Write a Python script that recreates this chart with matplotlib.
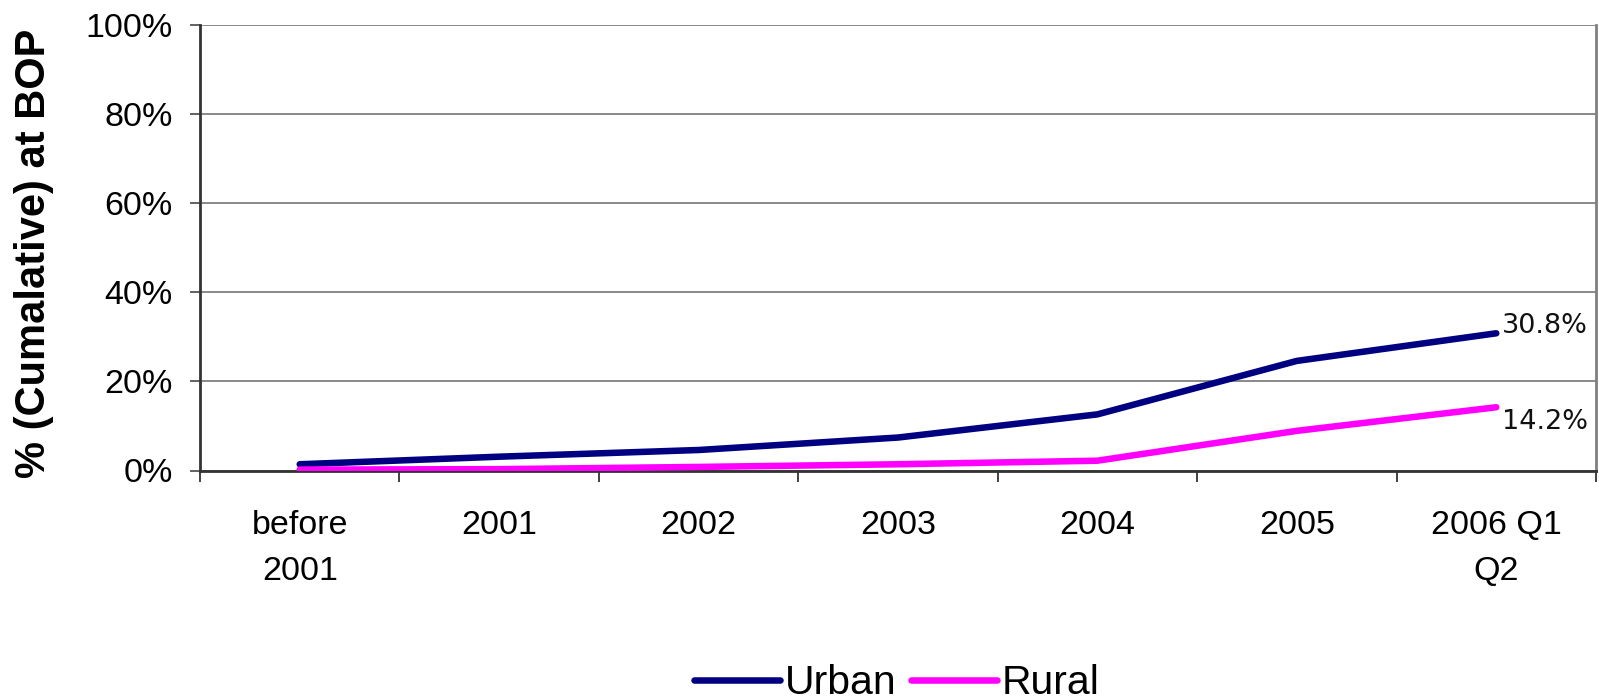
import matplotlib
matplotlib.use("Agg")
import matplotlib.pyplot as plt
from matplotlib.ticker import FixedLocator, PercentFormatter

categories = ["before\n2001", "2001", "2002", "2003", "2004", "2005", "2006 Q1\nQ2"]
urban = [1.4, 3.1, 4.6, 7.4, 12.6, 24.6, 30.8]
rural = [0.2, 0.3, 0.8, 1.4, 2.2, 8.9, 14.2]
y_ticks = [0, 20, 40, 60, 80, 100]

plt.rcParams["font.family"] = ["Liberation Sans", "DejaVu Sans"]

W, H = 1599, 700
fig = plt.figure(figsize=(W / 100, H / 100), dpi=100)
ax = fig.add_axes([200 / W, 1 - 470.5 / H, (1596 - 200) / W, (470.5 - 25) / H])

x = list(range(len(categories)))
ax.plot(x, urban, color="#000080", lw=4.7, solid_capstyle="round", label="Urban", zorder=3)
ax.plot(x, rural, color="#FF00FF", lw=4.7, solid_capstyle="round", label="Rural", zorder=3)

ax.annotate(f"{urban[-1]:.1f}%", (x[-1], urban[-1]), xytext=(4, 0), textcoords="offset points",
            ha="left", va="baseline", fontsize=19.5, family="DejaVu Sans", color="#111111")
ax.annotate(f"{rural[-1]:.1f}%", (x[-1], rural[-1]), xytext=(4, -1), textcoords="offset points",
            ha="left", va="top", fontsize=19.5, family="DejaVu Sans", color="#111111")

ax.set_xlim(-0.5, len(categories) - 0.5)
ax.set_ylim(0, 100)
ax.set_yticks(y_ticks)
ax.yaxis.set_major_formatter(PercentFormatter(decimals=0))
ax.grid(axis="y", color="#808080", lw=1.3)
ax.set_axisbelow(True)

ax.xaxis.set_major_locator(FixedLocator([i - 0.5 for i in range(len(categories) + 1)]))
ax.xaxis.set_minor_locator(FixedLocator(x))
ax.set_xticklabels([])
ax.set_xticklabels(categories, minor=True)
ax.tick_params(axis="x", which="major", direction="out", length=8, width=1.3, color="#333333")
ax.tick_params(axis="x", which="minor", length=0, pad=28.5, labelsize=24.5)
ax.tick_params(axis="y", direction="out", length=7.5, width=1.3, color="#555555", labelsize=24.5, pad=12)
for lbl in ax.xaxis.get_minorticklabels():
    lbl.set_linespacing(1.62)
    lbl.set_verticalalignment("top")

for side in ("left", "bottom"):
    ax.spines[side].set_color("#333333")
    ax.spines[side].set_linewidth(2)
ax.spines["right"].set_color("#808080")
ax.spines["right"].set_linewidth(2)
ax.spines["top"].set_visible(False)

fig.text(34 / W, 1 - 253.5 / H, "% (Cumalative) at BOP", rotation=90, ha="center", va="center",
         fontsize=30, fontweight="bold")

fig.legend(loc="center", bbox_to_anchor=(897 / W, 1 - 683 / H), ncol=2, frameon=False,
           fontsize=29.5, handlelength=2.1, handletextpad=0.12, columnspacing=0.34,
           borderpad=0, borderaxespad=0)

fig.savefig("out.png", dpi=100, facecolor="white")
